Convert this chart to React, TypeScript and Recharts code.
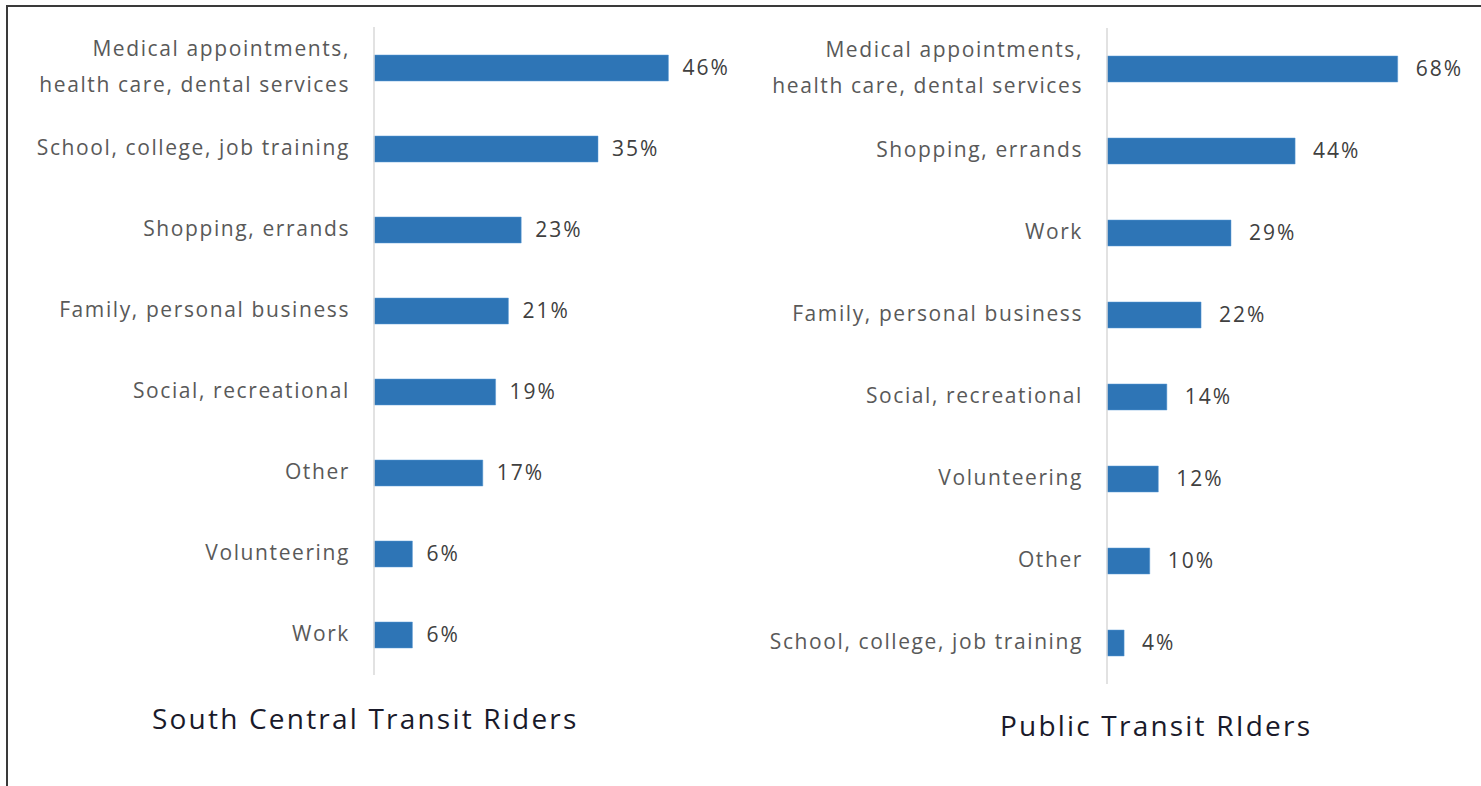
import React from 'react';
import { BarChart, Bar, XAxis, YAxis, LabelList } from 'recharts';

// South Central Transit Riders
const southCategories = [
  'Medical appointments,|health care, dental services',
  'School, college, job training',
  'Shopping, errands',
  'Family, personal business',
  'Social, recreational',
  'Other',
  'Volunteering',
  'Work',
];
const southValues = [46, 35, 23, 21, 19, 17, 6, 6];

// Public Transit Riders
const publicCategories = [
  'Medical appointments,|health care, dental services',
  'Shopping, errands',
  'Work',
  'Family, personal business',
  'Social, recreational',
  'Volunteering',
  'Other',
  'School, college, job training',
];
const publicValues = [68, 44, 29, 22, 14, 12, 10, 4];

const FONT = '"Open Sans", "Noto Sans", sans-serif';
const BAR_COLOR = '#2e75b6';

const toRows = (cats: string[], vals: number[]) => cats.map((c, i) => ({ name: c, value: vals[i] }));

const CategoryTick = ({ x, y, payload }: any) => {
  const lines = String(payload.value).split('|');
  const lineGap = 36;
  const start = -((lines.length - 1) * lineGap) / 2;
  return (
    <text x={x} y={y} textAnchor="end" fill="#595959" fontSize={21} fontFamily={FONT} letterSpacing={1.6}>
      {lines.map((l, i) => (
        <tspan key={i} x={x} dy={i === 0 ? start + 6 : lineGap}>
          {l}
        </tspan>
      ))}
    </text>
  );
};

type PanelProps = {
  rows: { name: string; value: number }[];
  width: number;
  height: number;
  axisWidth: number;
  max: number;
  top: number;
  bottom: number;
  right: number;
  labelOffset: number;
};

const Panel = ({ rows, width, height, axisWidth, max, top, bottom, right, labelOffset }: PanelProps) => (
  <BarChart
    layout="vertical"
    width={width}
    height={height}
    data={rows}
    margin={{ top, right, bottom, left: 0 }}
    barCategoryGap={0}
  >
    <XAxis type="number" domain={[0, max]} hide />
    <YAxis
      type="category"
      dataKey="name"
      width={axisWidth}
      axisLine={{ stroke: '#d9d9d9', strokeWidth: 1.5 }}
      tickLine={false}
      tickMargin={18}
      interval={0}
      tick={<CategoryTick />}
    />
    <Bar dataKey="value" fill={BAR_COLOR} stroke="#5b9bd5" strokeWidth={0.5} barSize={26} isAnimationActive={false}>
      <LabelList
        dataKey="value"
        position="right"
        offset={labelOffset}
        formatter={(v: any) => `${v}%`}
        style={{ fill: '#404040', fontSize: 21, fontFamily: FONT, letterSpacing: 2 }}
      />
    </Bar>
  </BarChart>
);

const titleStyle: React.CSSProperties = {
  position: 'absolute',
  fontFamily: FONT,
  fontSize: 28,
  color: '#1a1a2a',
  letterSpacing: 2.2,
  whiteSpace: 'nowrap',
  lineHeight: '36px',
};

export default function App() {
  return (
    <div style={{ position: 'absolute', left: 0, top: 0, width: 1481, height: 786, background: '#fff', overflow: 'hidden' }}>
      <div
        style={{
          position: 'absolute',
          left: 6,
          top: 5,
          right: 0,
          bottom: 0,
          borderTop: '2px solid #3a3a3a',
          borderLeft: '2px solid #3a3a3a',
        }}
      />
      <div style={{ position: 'absolute', left: 0, top: 0 }}>
        <Panel
          rows={toRows(southCategories, southValues)}
          width={740}
          height={680}
          axisWidth={374}
          max={50}
          top={27}
          bottom={5}
          right={46}
          labelOffset={14}
        />
      </div>
      <div style={{ position: 'absolute', left: 740, top: 0 }}>
        <Panel
          rows={toRows(publicCategories, publicValues)}
          width={741}
          height={690}
          axisWidth={367}
          max={80}
          top={28}
          bottom={6}
          right={32}
          labelOffset={18}
        />
      </div>
      <div style={{ ...titleStyle, left: 152, top: 700 }}>South Central Transit Riders</div>
      <div style={{ ...titleStyle, left: 1000, top: 707 }}>Public Transit RIders</div>
    </div>
  );
}
